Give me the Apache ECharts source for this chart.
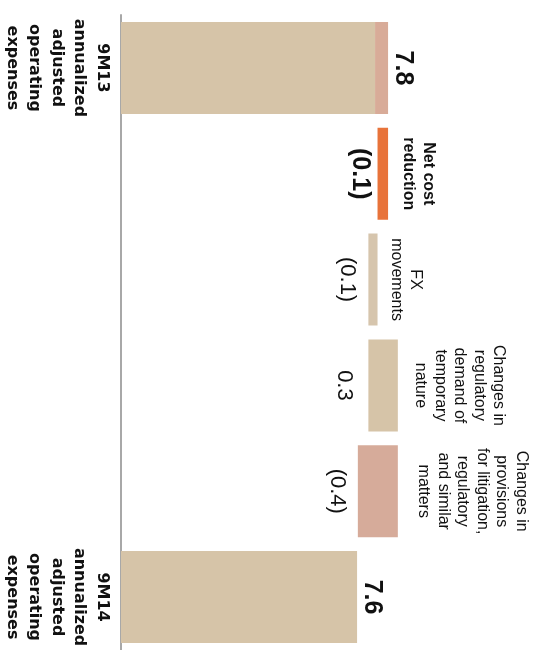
<!DOCTYPE html>
<html><head><meta charset="utf-8">
<script src="https://cdn.jsdelivr.net/npm/echarts@6/dist/echarts.min.js"></script>
<style>html,body{margin:0;padding:0;background:#fff}#c{width:533px;height:650px}</style>
</head><body><div id="c"></div>
<script>
// ---- data ----
const categories = ['9M13', 'Net cost reduction', 'FX movements', 'Regulatory demand', 'Provisions', '9M14'];
const axisLabelTexts = ['9M13\nannualized\nadjusted\noperating\nexpenses', '', '', '', '', '9M14\nannualized\nadjusted\noperating\nexpenses'];
const descriptionLabels = ['', 'Net cost\nreduction', 'FX\nmovements', 'Changes in\nregulatory\ndemand of\ntemporary\nnature', 'Changes in\nprovisions\nfor litigation,\nregulatory\nand similar\nmatters', ''];
const valueLabels = ['7.8', '(0.1)', '(0.1)', '0.3', '(0.4)', '7.6'];
const openingTotal = 7.8;
const openingHighlight = 0.084;
const changes = [null, -0.068, -0.059, 0.19, -0.258, null];
const closingTotal = 7.6;
const axisMin = 6.077, axisMax = 8.735;

// ---- styles ----
const barColors = ['#d6c4a8', '#e8733a', '#d6c5ad', '#d6c4a8', '#d6ab9a', '#d6c4a8'];
const highlightColor = '#d8ab98';
const valueDist = [0, 5, 10, 13, 9.5, 0];
const descDist = [0, 10.5, 9, 13, 16, 0];
const boldCat = [false, true, false, false, false, false];

// ---- build waterfall ----
const n = categories.length;
const base = [], main = [], strip = [];
let running = openingTotal;
for (let i = 0; i < n; i++) {
  if (i === 0) {
    base.push(axisMin);
    main.push(openingTotal - openingHighlight - axisMin);
    strip.push(openingHighlight);
  } else if (i === n - 1) {
    base.push(axisMin);
    main.push(closingTotal - axisMin);
    strip.push('-');
  } else {
    const next = running + changes[i];
    base.push(Math.min(running, next));
    main.push(Math.abs(changes[i]));
    strip.push('-');
    running = next;
  }
}

const rot = -90;
const baseData = base.map((v, i) => {
  const isDelta = i > 0 && i < n - 1;
  return {
    value: v,
    label: isDelta ? {
      show: true, position: 'insideRight', distance: valueDist[i], rotate: rot,
      align: 'center', verticalAlign: 'top',
      formatter: valueLabels[i], color: '#111',
      fontFamily: 'Liberation Sans', fontSize: boldCat[i] ? 25 : 22,
      fontWeight: boldCat[i] ? 'bold' : 'normal'
    } : { show: false }
  };
});
const mainData = main.map((v, i) => {
  const isDelta = i > 0 && i < n - 1;
  let label = { show: false };
  if (isDelta) {
    label = {
      show: true, position: 'right', distance: descDist[i], rotate: rot,
      align: 'center', verticalAlign: 'bottom',
      formatter: descriptionLabels[i], color: '#111',
      fontFamily: 'Liberation Sans', fontSize: 16,
      fontWeight: boldCat[i] ? 'bold' : 'normal',
      lineHeight: boldCat[i] ? 20 : 19.5
    };
  } else if (i === n - 1) {
    label = {
      show: true, position: 'right', distance: 2, rotate: rot,
      align: 'center', verticalAlign: 'bottom',
      formatter: valueLabels[i], color: '#111',
      fontFamily: 'Liberation Sans', fontSize: 25, fontWeight: 'bold'
    };
  }
  return { value: v, itemStyle: { color: barColors[i] }, label };
});
const stripData = strip.map((v, i) => {
  if (v === '-') return '-';
  return {
    value: v, itemStyle: { color: highlightColor },
    label: {
      show: true, position: 'right', distance: 2.5, rotate: rot,
      align: 'center', verticalAlign: 'bottom',
      formatter: valueLabels[i], color: '#111',
      fontFamily: 'Liberation Sans', fontSize: 25, fontWeight: 'bold'
    }
  };
});

const chart = echarts.init(document.getElementById('c'), null, { renderer: 'canvas' });
chart.setOption({
  animation: false,
  backgroundColor: '#ffffff',
  grid: { left: 121, top: 15, width: 412, height: 639, containLabel: false },
  xAxis: { type: 'value', min: axisMin, max: axisMax, show: false },
  yAxis: {
    type: 'category', inverse: true, data: categories,
    axisTick: { show: false },
    axisLine: { show: true, onZero: false, lineStyle: { color: '#a8a8a8', width: 2 } },
    splitLine: { show: false },
    axisLabel: {
      show: true, rotate: rot, margin: 8, interval: 0,
      align: 'center', verticalAlign: 'top',
      formatter: (val, idx) => axisLabelTexts[idx],
      fontFamily: 'DejaVu Sans', fontWeight: 'bold', fontSize: 16, lineHeight: 22.5, color: '#111'
    }
  },
  series: [
    { type: 'bar', stack: 'w', barWidth: 92, data: baseData, itemStyle: { color: 'transparent' }, silent: true, clip: true },
    { type: 'bar', stack: 'w', barWidth: 92, data: mainData, clip: true },
    { type: 'bar', stack: 'w', barWidth: 92, data: stripData, clip: true }
  ]
});
</script>
</body></html>
